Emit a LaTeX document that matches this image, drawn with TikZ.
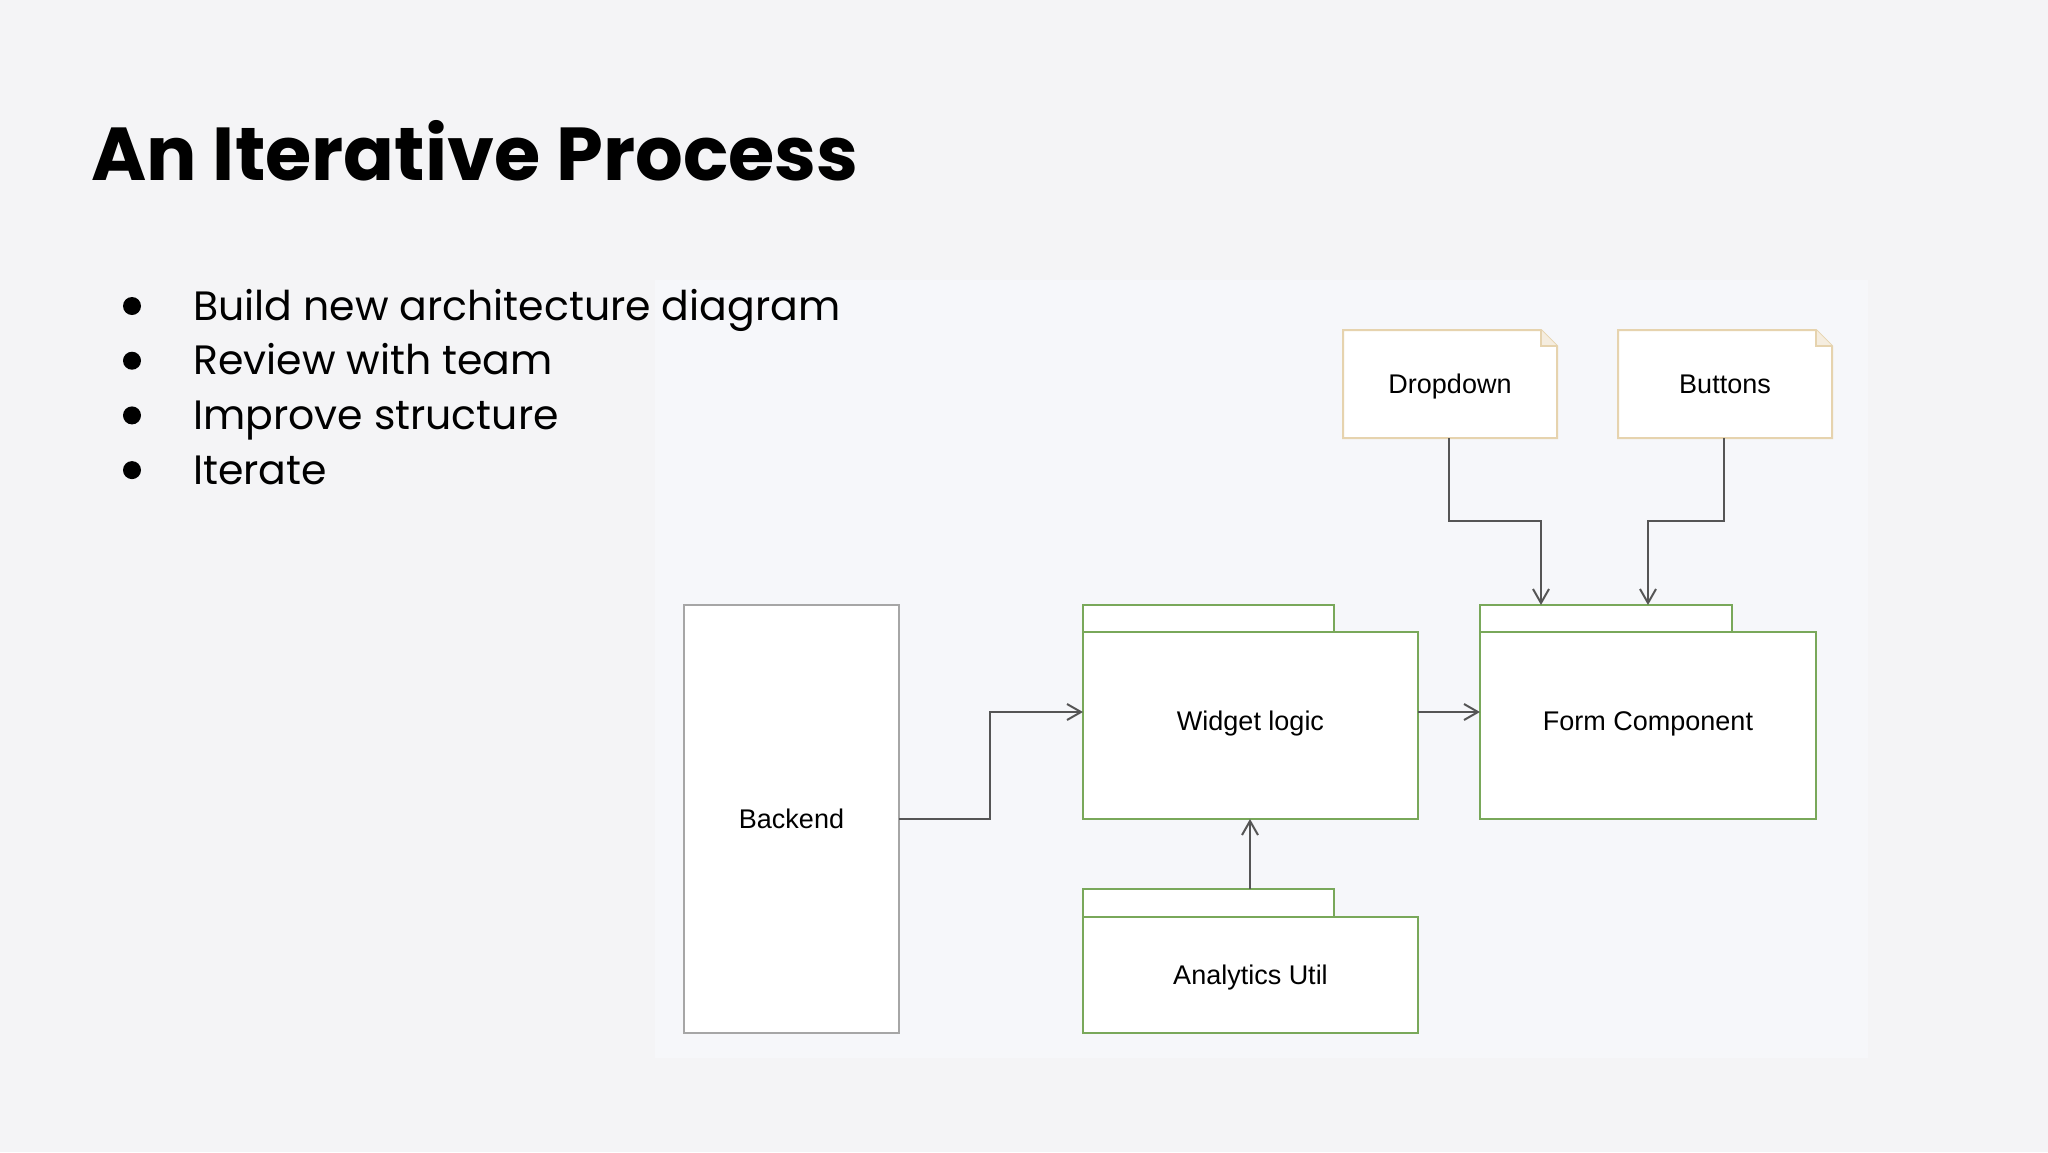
\documentclass[tikz,border=0pt]{standalone}
\usepackage{fontspec}
\setmainfont{Poppins}
\newfontfamily\diag{Liberation Sans}
\usetikzlibrary{arrows.meta}
\definecolor{bg}{HTML}{F4F4F6}
\definecolor{panel}{HTML}{F6F7FA}
\definecolor{grn}{HTML}{79A85A}
\definecolor{note}{HTML}{E6D3AE}
\definecolor{ln}{HTML}{555555}
\tikzset{
  pkg/.style={draw=grn, line width=2.2pt, fill=white},
  lbl/.style={font=\diag\fontsize{27}{30}\selectfont, text=black, anchor=base},
  conn/.style={draw=ln, line width=2.4pt, -{Straight Barb[length=14pt,width=16pt,line width=2pt]}},
  bul/.style={anchor=base west, font=\fontsize{41}{48}\selectfont}
}
\begin{document}
\begin{tikzpicture}[x=1pt,y=-1pt]
\useasboundingbox (0,0) rectangle (2048,1152);
\fill[bg] (0,0) rectangle (2048,1152);
\fill[panel] (655,280) rectangle (1868,1058);
% title
\node[anchor=base west, inner sep=0, font=\bfseries\fontsize{75}{80}\selectfont] (title) at (91,180) {An Iterative Process};
% bullets
\foreach \t [count=\i] in {Build new architecture diagram, Review with team, Improve structure, Iterate}{
  \node[bul, inner sep=0] (b\i) at (193,{306+(\i-1)*54.7+14}) {\t};
  \fill (132,{306+(\i-1)*54.7}) circle (9);
}
% notes
\foreach \nm/\xa/\xb/\cx/\tx in {dd/1343/1557/1449/Dropdown, bt/1618/1832/1724/Buttons}{
  \draw[note, line width=2pt, fill=white] (\xa,330) -- ({\xb-16},330) -- (\xb,346) -- (\xb,438) -- (\xa,438) -- cycle;
  \draw[note, line width=1.5pt, fill=note!40] ({\xb-16},330) -- ({\xb-16},346) -- (\xb,346);
  \node[lbl] (\nm) at ({(\xa+\xb)/2},393) {\tx};
  \coordinate (\nm b) at (\cx,438);
}
% backend
\draw[draw=gray!70, line width=2pt, fill=white] (684,605) rectangle (899,1033);
\node[lbl] (be) at (791.5,828) {Backend};
% packages
\draw[pkg] (1083,605) rectangle (1334,632);
\draw[pkg] (1083,632) rectangle (1418,819);
\node[lbl] (wl) at (1250.5,730) {Widget logic};
\draw[pkg] (1480,605) rectangle (1732,632);
\draw[pkg] (1480,632) rectangle (1816,819);
\node[lbl] (fc) at (1648,730) {Form Component};
\draw[pkg] (1083,889) rectangle (1334,917);
\draw[pkg] (1083,917) rectangle (1418,1033);
\node[lbl] (au) at (1250.5,984) {Analytics Util};
% connectors
\draw[conn] (899,819) -- (990,819) -- (990,712) -- (1083,712);
\draw[conn] (1418,712) -- (1480,712);
\draw[conn] (1250,889) -- (1250,819);
\draw[conn] (ddb) -- (1449,521) -- (1541,521) -- (1541,605);
\draw[conn] (btb) -- (1724,521) -- (1648,521) -- (1648,605);
\end{tikzpicture}
\end{document}
